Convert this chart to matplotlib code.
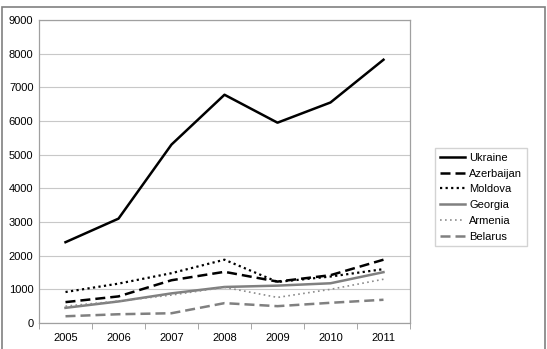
import matplotlib
matplotlib.use("Agg")
import matplotlib.pyplot as plt
from matplotlib.patches import Rectangle
import numpy as np

years = ["2005", "2006", "2007", "2008", "2009", "2010", "2011"]
ukraine = [2400, 3100, 5300, 6780, 5950, 6550, 7820]
azerbaijan = [620, 790, 1270, 1520, 1230, 1420, 1880]
moldova = [920, 1170, 1480, 1880, 1220, 1380, 1600]
georgia = [450, 640, 880, 1070, 1110, 1180, 1510]
armenia = [500, 650, 830, 1060, 760, 1000, 1300]
belarus = [200, 260, 290, 590, 500, 600, 690]

plt.rcParams['font.family'] = ['Liberation Sans', 'DejaVu Sans']
fig = plt.figure(figsize=(5.47, 3.49), dpi=100)
ax = fig.add_axes([0.0713, 0.0745, 0.6782, 0.8682])
x = np.arange(len(years))

ax.plot(x, ukraine, color='black', lw=1.8, label='Ukraine')
ax.plot(x, azerbaijan, color='black', lw=1.8, dashes=(4, 2), label='Azerbaijan')
ax.plot(x, moldova, color='black', lw=1.6, dashes=(1, 1.5), label='Moldova')
ax.plot(x, georgia, color='#808080', lw=1.8, label='Georgia')
ax.plot(x, armenia, color='#8c8c8c', lw=1.2, dashes=(1, 2), label='Armenia')
ax.plot(x, belarus, color='#808080', lw=1.8, dashes=(4, 2), label='Belarus')

ax.set_xlim(-0.5, len(years) - 0.5)
ax.set_ylim(0, 9000)
ax.set_yticks(range(0, 9001, 1000))
ax.set_xticks(x)
ax.set_xticklabels(years)
ax.set_xticks(np.arange(-0.5, len(years), 1), minor=True)
ax.tick_params(axis='x', which='major', length=0, labelsize=8, pad=7)
ax.tick_params(axis='x', which='minor', length=4, color='#999999', direction='out')
ax.tick_params(axis='y', length=0, labelsize=8, pad=4)
ax.yaxis.grid(True, color='#c8c8c8', lw=0.8)
ax.set_axisbelow(True)
for s in ['top', 'right', 'left', 'bottom']:
    ax.spines[s].set_color('#a0a0a0')
    ax.spines[s].set_linewidth(0.9)

leg = ax.legend(loc='center left', bbox_to_anchor=(1.068, 0.415), fontsize=8,
                frameon=True, fancybox=False, edgecolor='#c8c8c8',
                handlelength=2.3, handletextpad=0.35, borderpad=0.4,
                labelspacing=0.52, borderaxespad=0)

fig.patches.append(Rectangle((2/547, -0.01), 543/547, 1 - 7/349 + 0.01,
                             transform=fig.transFigure, fill=False,
                             edgecolor='#808080', lw=1.2))
fig.savefig('out.png', dpi=100)
